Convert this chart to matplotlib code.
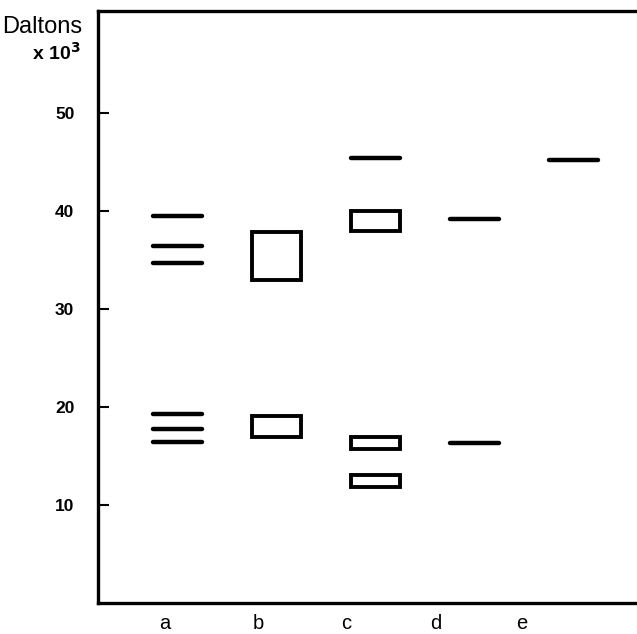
import matplotlib
matplotlib.use("Agg")
import matplotlib.pyplot as plt

# ---- data ----
lanes = ["a", "b", "c", "d", "e"]
# single thin bands: (lane index, kDa)
line_lane = [0, 0, 0, 0, 0, 0, 2, 3, 3, 4]
line_kda = [39.5, 36.4, 34.7, 19.3, 17.8, 16.4, 45.4, 39.2, 16.3, 45.2]
# broad bands drawn as boxes: (lane index, low kDa, high kDa)
box_lane = [1, 1, 2, 2, 2]
box_low = [33.0, 16.9, 38.0, 15.7, 11.8]
box_high = [37.9, 19.1, 40.0, 16.9, 13.1]
yticks = [10, 20, 30, 40, 50]

# ---- layout ----
W, H = 637, 634
fig = plt.figure(figsize=(W / 100, H / 100), dpi=100)
left_px, right_px, top_px, bottom_px = 98, 640, 11, 603
ax = fig.add_axes([left_px / W, 1 - bottom_px / H,
                   (right_px - left_px) / W, (bottom_px - top_px) / H])

band_w = 0.5
label_offset = [-0.13, -0.19, -0.30, -0.39, -0.52]

for lane, v in zip(line_lane, line_kda):
    ax.hlines(v, lane - band_w / 2, lane + band_w / 2, color="black",
              linewidth=3.2, capstyle="round")

for lane, lo, hi in zip(box_lane, box_low, box_high):
    ax.bar(lane, hi - lo, bottom=lo, width=band_w, fill=False,
           edgecolor="black", linewidth=2.8)

ax.set_xlim(-0.805, 4.67)
ax.set_ylim(0, 60.4)

ax.set_yticks(yticks)
ax.set_yticklabels([str(t) for t in yticks], fontsize=12.5, fontweight="bold",
                   family="Liberation Sans")
ax.tick_params(axis="y", direction="in", length=8, width=1.5, pad=17)

ax.set_xticks([i + o for i, o in enumerate(label_offset)])
ax.set_xticklabels(lanes, fontsize=14.5, family="Liberation Sans")
ax.tick_params(axis="x", length=0, pad=8)

for s in ["left", "bottom", "top"]:
    ax.spines[s].set_linewidth(2.4)
ax.spines["right"].set_visible(False)

fig.text(2 / W, 1 - 27 / H, "Daltons", fontsize=17, family="Liberation Sans",
         va="center", ha="left")
fig.text(81 / W, 1 - 53 / H, r"x 10$^{\mathbf{3}}$", fontsize=14,
         fontweight="bold", family="Liberation Sans", va="center", ha="right")

fig.savefig("out.png", dpi=100)
